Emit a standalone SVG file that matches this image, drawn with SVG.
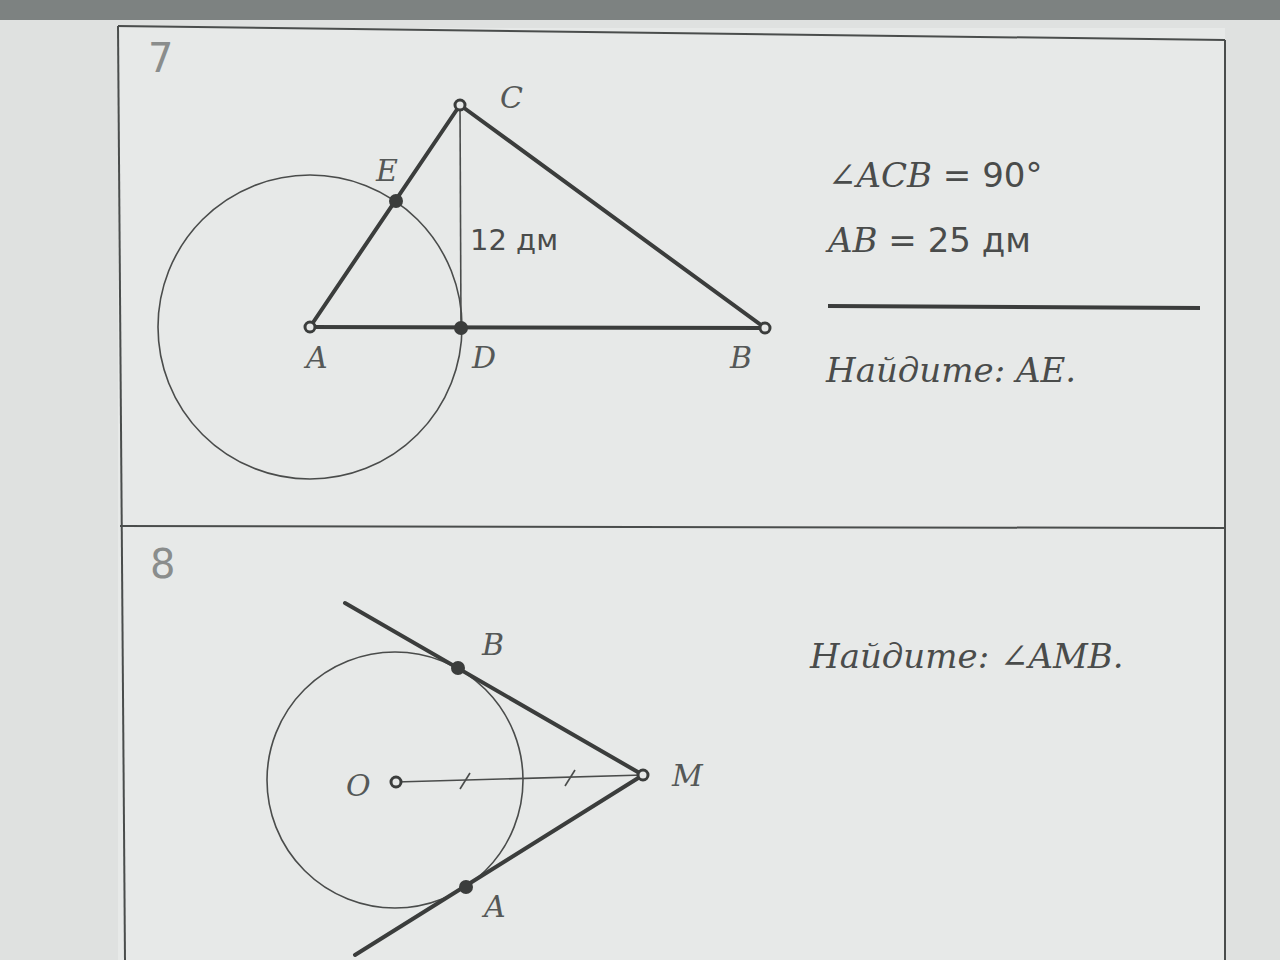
<svg xmlns="http://www.w3.org/2000/svg" width="1280" height="960" viewBox="0 0 1280 960">
<style>
.frame{stroke:#4a4d4c;stroke-width:2;fill:none}
.thick{stroke:#3b3d3c;stroke-width:4;fill:none;stroke-linecap:round}
.thin{stroke:#4a4c4b;stroke-width:1.6;fill:none}
.open{fill:#e6e8e7;stroke:#3b3d3c;stroke-width:3}
.dot{fill:#3b3d3c}
.lbl{font-family:"DejaVu Serif","Liberation Serif",serif;font-style:italic;font-size:30px;fill:#555857}
.num{font-family:"DejaVu Sans","Liberation Sans",sans-serif;font-size:40px;fill:#8a8d8c}
.txt{font-family:"DejaVu Serif","Liberation Serif",serif;font-size:34px;fill:#4a4c4b}
.up{font-family:"DejaVu Sans","Liberation Sans",sans-serif;font-style:normal}
</style>
<rect width="1280" height="960" fill="#dfe1e0"/>
<rect x="0" y="0" width="1280" height="20" fill="#7d8281"/>
<rect x="118" y="28" width="1107" height="932" fill="#e7e9e8"/>
<g id="frame">
<line class="frame" x1="118" y1="26" x2="1225" y2="40"/>
<line class="frame" x1="118" y1="26" x2="125" y2="960"/>
<line class="frame" x1="1225" y1="40" x2="1225" y2="960"/>
<line class="frame" x1="120" y1="526" x2="1225" y2="528"/>
</g>
<g id="problem7">
<text class="num" x="148" y="72">7</text>
<g id="p7-connectors">
<circle class="thin" cx="310" cy="327" r="152"/>
<line class="thin" x1="460" y1="105" x2="461" y2="328"/>
<line class="thick" x1="310" y1="327" x2="765" y2="328"/>
<line class="thick" x1="310" y1="327" x2="460" y2="105"/>
<line class="thick" x1="460" y1="105" x2="765" y2="328"/>
</g>
<g id="p7-C"><circle class="open" cx="460" cy="105" r="5"/><text class="lbl" x="500" y="108">C</text></g>
<g id="p7-E"><circle class="dot" cx="396" cy="201" r="7"/><text class="lbl" x="376" y="181">E</text></g>
<g id="p7-A"><circle class="open" cx="310" cy="327" r="5"/><text class="lbl" x="306" y="368">A</text></g>
<g id="p7-D"><circle class="dot" cx="461" cy="328" r="7"/><text class="lbl" x="472" y="368">D</text></g>
<g id="p7-B"><circle class="open" cx="765" cy="328" r="5"/><text class="lbl" x="730" y="368">B</text></g>
<text class="txt up" x="470" y="250" style="font-size:29px">12 дм</text>
<g id="p7-given">
<text class="txt" x="828" y="187"><tspan font-style="italic">∠ACB</tspan><tspan class="up"> = 90°</tspan></text>
<text class="txt" x="828" y="252"><tspan font-style="italic">AB</tspan><tspan class="up"> = 25 дм</tspan></text>
<line x1="828" y1="306" x2="1200" y2="308" stroke="#3b3d3c" stroke-width="4"/>
<text class="txt" x="826" y="382" font-style="italic">Найдите: AE.</text>
</g>
</g>
<g id="problem8">
<text class="num" x="150" y="578">8</text>
<g id="p8-connectors">
<circle class="thin" cx="395" cy="780" r="128"/>
<line class="thin" x1="396" y1="782" x2="643" y2="775"/>
<line class="thin" x1="460" y1="789" x2="470" y2="773"/>
<line class="thin" x1="565" y1="786" x2="575" y2="770"/>
<line class="thick" x1="345" y1="603" x2="643" y2="775"/>
<line class="thick" x1="643" y1="775" x2="355" y2="955"/>
</g>
<g id="p8-O"><circle class="open" cx="396" cy="782" r="5"/><text class="lbl" x="346" y="796">O</text></g>
<g id="p8-M"><circle class="open" cx="643" cy="775" r="5"/><text class="lbl" x="672" y="786">M</text></g>
<g id="p8-B"><circle class="dot" cx="458" cy="668" r="7"/><text class="lbl" x="482" y="655">B</text></g>
<g id="p8-A"><circle class="dot" cx="466" cy="887" r="7"/><text class="lbl" x="484" y="917">A</text></g>
<text class="txt" x="810" y="668" font-style="italic">Найдите: ∠AMB.</text>
</g>
</svg>
